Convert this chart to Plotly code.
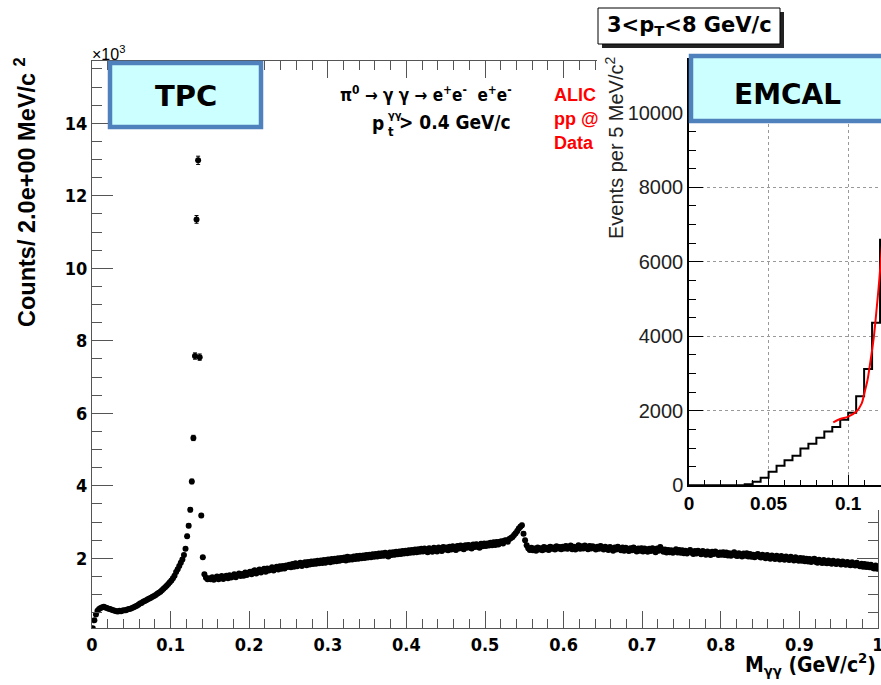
import numpy as np
import plotly.graph_objects as go

W, H = 881, 685

# ---------------- TPC: e+e- conversion pairs, M_gg in 2 MeV bins (counts x 10^3)
tpc_bin_width = 0.002
tpc_counts = [
    # 0.001 - 0.049
    0.07, 0.29, 0.45, 0.55, 0.60, 0.63, 0.65, 0.66, 0.64, 0.63, 0.61, 0.60, 0.58,
    0.57, 0.55, 0.54, 0.53, 0.55, 0.54, 0.56, 0.57, 0.57, 0.59, 0.60, 0.61,
    # 0.051 - 0.099
    0.63, 0.65, 0.67, 0.69, 0.72, 0.75, 0.77, 0.80, 0.82, 0.84, 0.87, 0.89, 0.91,
    0.94, 0.96, 0.99, 1.02, 1.05, 1.08, 1.12, 1.16, 1.20, 1.24, 1.29, 1.34,
    # 0.101 - 0.149 (pi0 peak)
    1.39, 1.45, 1.52, 1.62, 1.70, 1.79, 1.88, 1.97, 2.09, 2.26, 2.61, 2.90, 3.34,
    4.12, 5.32, 7.58, 11.35, 12.98, 7.55, 3.18, 2.03, 1.56, 1.46, 1.42, 1.45,
    # 0.151 - 0.199
    1.42, 1.48, 1.41, 1.46, 1.50, 1.42, 1.47, 1.51, 1.43, 1.49, 1.52, 1.45, 1.53,
    1.47, 1.50, 1.56, 1.48, 1.53, 1.58, 1.51, 1.57, 1.52, 1.61, 1.54, 1.60,
    # 0.201 - 0.249
    1.63, 1.56, 1.64, 1.67, 1.58, 1.65, 1.69, 1.61, 1.66, 1.71, 1.63, 1.72, 1.66,
    1.70, 1.75, 1.66, 1.72, 1.77, 1.69, 1.78, 1.71, 1.79, 1.72, 1.80, 1.76,
    # 0.251 - 0.299
    1.82, 1.75, 1.84, 1.77, 1.86, 1.78, 1.83, 1.88, 1.79, 1.86, 1.89, 1.81, 1.90,
    1.83, 1.91, 1.84, 1.92, 1.85, 1.93, 1.86, 1.94, 1.87, 1.95, 1.88, 1.96,
    # 0.301 - 0.349
    1.97, 1.89, 1.98, 1.91, 1.99, 1.92, 2.00, 1.93, 2.01, 1.95, 2.02, 1.94, 2.04,
    1.96, 2.03, 1.97, 2.05, 1.98, 2.06, 1.99, 2.07, 2.00, 2.08, 2.01, 2.09,
    # 0.351 - 0.399
    2.02, 2.10, 2.03, 2.11, 2.04, 2.12, 2.05, 2.13, 2.06, 2.14, 2.07, 2.15, 2.08,
    2.05, 2.16, 2.09, 2.17, 2.10, 2.18, 2.11, 2.19, 2.12, 2.20, 2.13, 2.21,
    # 0.401 - 0.449
    2.14, 2.22, 2.15, 2.23, 2.16, 2.24, 2.17, 2.25, 2.18, 2.26, 2.19, 2.27, 2.20,
    2.17, 2.28, 2.21, 2.18, 2.29, 2.22, 2.19, 2.30, 2.23, 2.20, 2.31, 2.24,
    # 0.451 - 0.499
    2.30, 2.22, 2.32, 2.24, 2.33, 2.25, 2.23, 2.34, 2.27, 2.35, 2.28, 2.25, 2.36,
    2.29, 2.37, 2.30, 2.27, 2.38, 2.31, 2.39, 2.32, 2.29, 2.40, 2.33, 2.41,
    # 0.501 - 0.549 (eta peak)
    2.34, 2.41, 2.35, 2.43, 2.36, 2.44, 2.37, 2.45, 2.38, 2.46, 2.47, 2.41, 2.49,
    2.50, 2.46, 2.53, 2.56, 2.59, 2.64, 2.69, 2.75, 2.82, 2.87, 2.91, 2.68,
    # 0.551 - 0.599
    2.50, 2.36, 2.28, 2.23, 2.29, 2.22, 2.27, 2.21, 2.30, 2.24, 2.28, 2.22, 2.31,
    2.25, 2.29, 2.23, 2.32, 2.26, 2.30, 2.24, 2.33, 2.27, 2.31, 2.25, 2.32,
    # 0.601 - 0.649
    2.27, 2.34, 2.26, 2.31, 2.35, 2.25, 2.32, 2.24, 2.30, 2.36, 2.26, 2.33, 2.27,
    2.35, 2.29, 2.25, 2.34, 2.27, 2.33, 2.28, 2.24, 2.32, 2.26, 2.34, 2.28,
    # 0.651 - 0.699
    2.24, 2.32, 2.27, 2.23, 2.31, 2.25, 2.21, 2.30, 2.24, 2.32, 2.26, 2.22, 2.30,
    2.21, 2.29, 2.24, 2.20, 2.28, 2.22, 2.30, 2.24, 2.19, 2.27, 2.21, 2.28,
    # 0.701 - 0.749
    2.19, 2.27, 2.21, 2.18, 2.26, 2.20, 2.28, 2.22, 2.17, 2.27, 2.21, 2.31, 2.25,
    2.18, 2.24, 2.16, 2.23, 2.17, 2.22, 2.15, 2.21, 2.25, 2.16, 2.23, 2.15,
    # 0.751 - 0.799
    2.22, 2.14, 2.21, 2.13, 2.19, 2.23, 2.15, 2.12, 2.20, 2.13, 2.21, 2.16, 2.11,
    2.20, 2.14, 2.10, 2.19, 2.13, 2.09, 2.18, 2.12, 2.19, 2.14, 2.09, 2.16,
    # 0.801 - 0.849
    2.10, 2.17, 2.09, 2.16, 2.08, 2.14, 2.07, 2.13, 2.17, 2.08, 2.06, 2.14, 2.08,
    2.05, 2.13, 2.07, 2.14, 2.05, 2.12, 2.04, 2.10, 2.03, 2.09, 2.12, 2.04,
    # 0.851 - 0.899
    2.02, 2.10, 2.04, 2.00, 2.09, 2.03, 1.99, 2.08, 2.02, 1.98, 2.07, 2.01, 1.97,
    2.06, 2.00, 1.96, 2.05, 1.99, 1.95, 2.04, 1.98, 1.94, 2.03, 1.97, 1.93,
    # 0.901 - 0.949
    2.01, 1.93, 2.00, 1.92, 1.99, 1.91, 1.98, 1.90, 1.96, 1.99, 1.90, 1.88, 1.96,
    1.89, 1.87, 1.95, 1.88, 1.86, 1.94, 1.87, 1.85, 1.93, 1.86, 1.84, 1.92,
    # 0.951 - 0.999
    1.90, 1.83, 1.91, 1.84, 1.82, 1.90, 1.83, 1.81, 1.89, 1.82, 1.80, 1.88, 1.81,
    1.78, 1.85, 1.77, 1.84, 1.76, 1.83, 1.75, 1.82, 1.74, 1.72, 1.80, 1.71,
]
tpc_mass = np.arange(len(tpc_counts)) * tpc_bin_width + tpc_bin_width / 2
tpc_err = np.sqrt(np.array(tpc_counts) * 1000.0) / 1000.0  # Poisson, in units of 10^3
tpc_ticks = [0, 0.1, 0.2, 0.3, 0.4, 0.5, 0.6, 0.7, 0.8, 0.9, 1]
tpc_ticktext = ["0", "0.1", "0.2", "0.3", "0.4", "0.5", "0.6", "0.7", "0.8", "0.9", "1"]

# ---------------- EMCAL: M_gg in 5 MeV bins, 3 < pT < 8 GeV/c
emcal_edges = [round(0.005 * i, 3) for i in range(26)]
emcal_counts = [0, 0, 0, 0, 0, 0, 0, 27, 98, 205, 366, 527, 670, 795, 991,
                1116, 1277, 1446, 1563, 1759, 1946, 2393, 3125, 4366, 6589]
fit_mass = [0.0906, 0.095, 0.100, 0.105, 0.1085, 0.110, 0.112, 0.1137, 0.116,
            0.118, 0.1195, 0.1208, 0.122]
fit_counts = [1690, 1780, 1845, 1975, 2200, 2450, 2800, 3250, 3950, 4800,
              5500, 6200, 6900]

NARROW = "Liberation Sans Narrow, DejaVu Sans Condensed, Liberation Sans, Arial"
SANS = "Liberation Sans, Arial, sans-serif"
WIDE = "DejaVu Sans, Verdana, sans-serif"


def px(x):
    return x / W


def py(y):
    return 1 - y / H


fig = go.Figure()

# main TPC spectrum
fig.add_trace(go.Scatter(
    x=tpc_mass, y=tpc_counts, mode="markers",
    marker=dict(color="black", size=6),
    error_y=dict(type="data", array=tpc_err, color="black", thickness=1, width=2),
    xaxis="x", yaxis="y", showlegend=False, hoverinfo="skip"))

# blank pad that the EMCAL panel sits on
fig.add_trace(go.Scatter(x=[], y=[], xaxis="x2", yaxis="y2", showlegend=False))

# EMCAL histogram (step) and fit
fig.add_trace(go.Scatter(
    x=emcal_edges, y=emcal_counts + [emcal_counts[-1]], mode="lines",
    line=dict(color="black", width=2, shape="hv"),
    xaxis="x3", yaxis="y3", showlegend=False, hoverinfo="skip"))
fig.add_trace(go.Scatter(
    x=fit_mass, y=fit_counts, mode="lines",
    line=dict(color="red", width=2, shape="spline"),
    xaxis="x3", yaxis="y3", showlegend=False, hoverinfo="skip"))

axis_col = "#555555"
fig.update_layout(
    width=W, height=H, margin=dict(l=0, r=0, t=0, b=0, autoexpand=False),
    paper_bgcolor="white", plot_bgcolor="white",
    xaxis=dict(
        domain=[px(92), px(878)], range=[0, 1], anchor="y", automargin=False,
        tickmode="array", tickvals=tpc_ticks, ticktext=tpc_ticktext,
        ticklabeloverflow="allow",
        ticks="inside", ticklen=17, tickwidth=1, tickcolor=axis_col,
        minor=dict(tickmode="linear", tick0=0, dtick=0.02, ticks="inside",
                   ticklen=9, tickcolor=axis_col),
        showline=True, linecolor=axis_col, linewidth=1, mirror="ticks",
        showgrid=False, zeroline=False,
        tickfont=dict(family=NARROW, size=18, color="black", weight="bold")),
    yaxis=dict(
        domain=[py(628), py(61)], range=[0.077, 15.72], anchor="x", automargin=False,
        dtick=2, tick0=0, ticks="inside", ticklen=21, tickwidth=1, tickcolor=axis_col,
        minor=dict(dtick=0.5, ticks="inside", ticklen=10, tickcolor=axis_col),
        showline=True, linecolor=axis_col, linewidth=1, mirror="ticks",
        showgrid=False, zeroline=False,
        tickfont=dict(family=NARROW, size=18, color="black", weight="bold")),
    xaxis2=dict(domain=[px(597), 1], range=[0, 1], anchor="y2", visible=False,
                automargin=False),
    yaxis2=dict(domain=[py(510), 1], range=[0, 1], anchor="x2", visible=False,
                automargin=False),
    xaxis3=dict(
        domain=[px(689), 1], range=[0, 0.1206], anchor="y3", automargin=False,
        dtick=0.05, tick0=0, ticks="inside", ticklen=11, tickcolor="black",
        minor=dict(dtick=0.01, ticks="inside", ticklen=6, tickcolor="black"),
        showline=True, linecolor="black", linewidth=1.5,
        showgrid=True, gridcolor="#999999", griddash="dot", gridwidth=1,
        zeroline=False,
        tickfont=dict(family=SANS, size=19, color="black", weight="bold")),
    yaxis3=dict(
        domain=[py(485.3), py(58)], range=[0, 11470], anchor="x3", automargin=False,
        dtick=2000, tick0=0, tickformat="d", ticks="inside", ticklen=14, tickcolor="black",
        minor=dict(dtick=500, ticks="inside", ticklen=7, tickcolor="black"),
        showline=True, linecolor="black", linewidth=1.5,
        showgrid=True, gridcolor="#999999", griddash="dot", gridwidth=1,
        zeroline=False,
        tickfont=dict(family=SANS, size=20, color="#222222")),
)

shapes = []
# TPC label box
shapes.append(dict(type="rect", xref="paper", yref="paper",
                   x0=px(110), x1=px(261), y0=py(127), y1=py(63),
                   fillcolor="#ccffff", line=dict(color="#4f81bd", width=4.5), layer="above"))
# pT range box with drop shadow
shapes.append(dict(type="rect", xref="paper", yref="paper",
                   x0=px(602), x1=px(784), y0=py(48), y1=py(12),
                   fillcolor="#222222", line=dict(width=0), layer="above"))
shapes.append(dict(type="rect", xref="paper", yref="paper",
                   x0=px(598), x1=px(780), y0=py(44), y1=py(8),
                   fillcolor="white", line=dict(color="black", width=1), layer="above"))
# EMCAL label box
shapes.append(dict(type="rect", xref="paper", yref="paper",
                   x0=px(691), x1=px(895), y0=py(121), y1=py(56),
                   fillcolor="#ccffff", line=dict(color="#4f81bd", width=4.5), layer="above"))
fig.update_layout(shapes=shapes)

ann = []


def text(x, y, s, size, family=SANS, color="black", bold=True, xanchor="center",
         yanchor="middle", angle=0):
    ann.append(dict(x=px(x), y=py(y), xref="paper", yref="paper", text=s,
                    showarrow=False, xanchor=xanchor, yanchor=yanchor, textangle=angle,
                    font=dict(family=family, size=size, color=color,
                              weight="bold" if bold else "normal")))


# main pad texts
text(25, 192, "Counts/ 2.0e+00 MeV/c <sup>2</sup>", 23.5, family=SANS, angle=-90)
text(878, 664, "M<sub>γγ</sub> (GeV/c<sup>2</sup>)", 21, family=NARROW, xanchor="right")
text(90, 53, "×10<sup>3</sup>", 16, bold=False, xanchor="left")
text(185.5, 96, "TPC", 29, family=WIDE)
text(514, 94, "π<sup>0</sup> → γ γ → e<sup>+</sup>e<sup>-</sup>  e<sup>+</sup>e<sup>-</sup>",
     17, family=NARROW, xanchor="right")
text(386, 123, "p", 19, family=NARROW, xanchor="right")
text(386, 115, "γγ", 11, family=NARROW, xanchor="left")
text(386, 132, "t", 13, family=NARROW, xanchor="left")
text(513, 122, "> 0.4 GeV/c", 19, family=NARROW, xanchor="right")
text(552, 95, "ALIC", 18, color="#ff0000", xanchor="left")
text(552, 119, "pp @", 18, color="#ff0000", xanchor="left")
text(552, 143, "Data", 18, color="#ff0000", xanchor="left")

# EMCAL pad texts
text(689, 26, "3&lt;p<sub>T</sub>&lt;8 GeV/c", 21, family=WIDE)
text(787, 94, "EMCAL", 28, family=WIDE)
text(614, 148, "Events per 5 MeV/c<sup>2</sup>", 20, bold=False, color="#222222", angle=-90)

fig.update_layout(annotations=ann)

fig.write_html("out.html")
